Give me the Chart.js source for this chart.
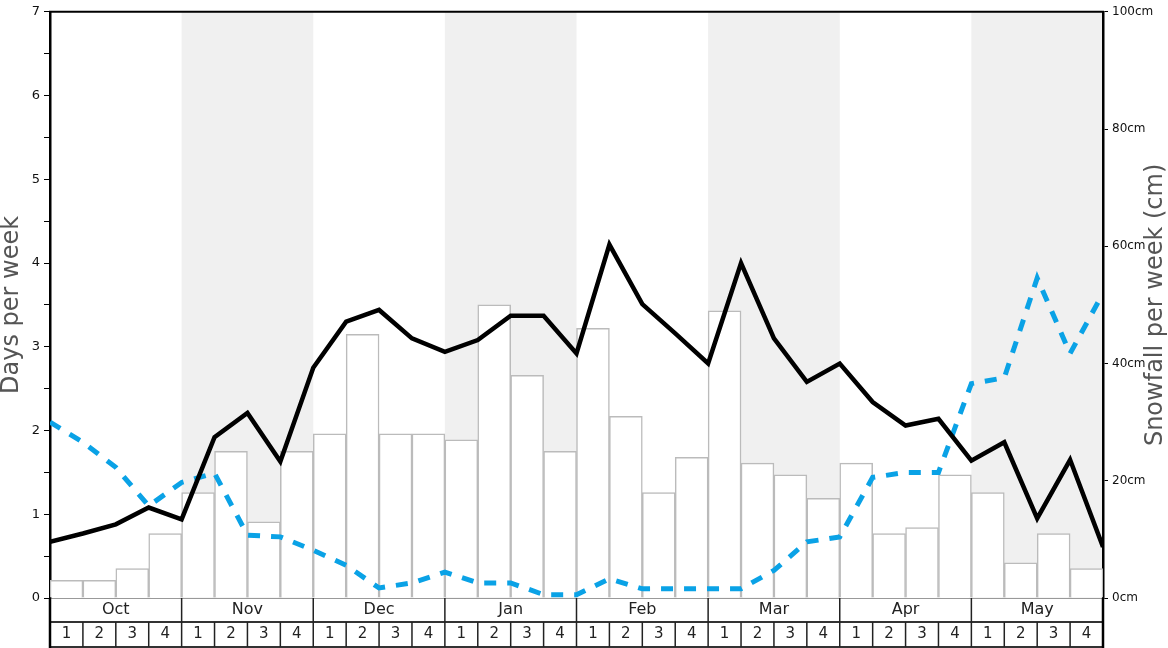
<!DOCTYPE html>
<html>
<head>
<meta charset="utf-8">
<script src="https://cdn.jsdelivr.net/npm/chart.js@4.4.1/dist/chart.umd.min.js"></script>
<style>
  html, body { margin: 0; padding: 0; background: #fff; }
  canvas { display: block; }
</style>
</head>
<body>
<canvas id="c" width="1168" height="648"></canvas>
<script>
// ---- data ----
const months = ['Oct', 'Nov', 'Dec', 'Jan', 'Feb', 'Mar', 'Apr', 'May'];
const weekNumbers = ['1', '2', '3', '4'];
const weekLabels = months.flatMap(m => weekNumbers.map(w => m + ' ' + w));

// snowfall per week (cm) - bars, right axis
const snowfallCm = [3, 3, 5, 11, 18, 25, 13, 25, 28, 45, 28, 28, 27, 50, 38, 25,
                    46, 31, 18, 24, 49, 23, 21, 17, 23, 11, 12, 21, 18, 6, 11, 5];

// days per week - solid black line (values at week boundaries)
const daysBlack = [0.67, 0.77, 0.88, 1.08, 0.94, 1.92, 2.21, 1.63, 2.75, 3.30, 3.44,
                   3.10, 2.94, 3.08, 3.37, 3.37, 2.92, 4.22, 3.51, 3.16, 2.80, 4.00,
                   3.10, 2.58, 2.80, 2.34, 2.06, 2.14, 1.64, 1.86, 0.95, 1.65, 0.61];

// days per week - dashed blue line (values at week boundaries)
const daysBlue = [2.10, 1.86, 1.56, 1.10, 1.38, 1.49, 0.75, 0.73, 0.57, 0.39, 0.12,
                  0.18, 0.31, 0.18, 0.18, 0.04, 0.04, 0.23, 0.11, 0.11, 0.11, 0.11,
                  0.33, 0.67, 0.73, 1.44, 1.50, 1.50, 2.56, 2.63, 3.82, 2.92, 3.64];

const leftTicksMax = 7;
const rightTicksMax = 100;
const leftTitle = 'Days per week';
const rightTitle = 'Snowfall per week (cm)';

const FONT = "'DejaVu Sans', sans-serif";

// ---- plugins ----
const bandsPlugin = {
  id: 'bands',
  beforeDraw(chart) {
    const {ctx, chartArea} = chart;
    const xl = chart.scales.xl;
    ctx.save();
    ctx.fillStyle = '#f0f0f0';
    months.forEach((m, i) => {
      if (i % 2 === 1) {
        const a = xl.getPixelForValue(i * 4);
        const b = xl.getPixelForValue(i * 4 + 4);
        ctx.fillRect(a, chartArea.top, b - a, chartArea.bottom - chartArea.top);
      }
    });
    ctx.restore();
  }
};

const tablePlugin = {
  id: 'table',
  afterDraw(chart) {
    const {ctx, chartArea} = chart;
    const xl = chart.scales.xl;
    const L = chartArea.left, R = chartArea.right;
    const y0 = chartArea.bottom;
    const y1 = y0 + 24;
    const y2 = chart.height - 1;
    ctx.save();
    // top frame line
    ctx.strokeStyle = '#000';
    ctx.lineWidth = 2;
    ctx.beginPath();
    ctx.moveTo(L - 1, chartArea.top);
    ctx.lineTo(R + 1, chartArea.top);
    ctx.stroke();

    // baseline
    ctx.strokeStyle = '#999';
    ctx.lineWidth = 1;
    ctx.beginPath();
    ctx.moveTo(L, y0 + 0.5);
    ctx.lineTo(R, y0 + 0.5);
    ctx.stroke();

    ctx.strokeStyle = '#333';
    ctx.lineWidth = 2;
    ctx.beginPath();
    ctx.moveTo(L, y1);
    ctx.lineTo(R, y1);
    ctx.moveTo(L, y2);
    ctx.lineTo(R, y2);
    ctx.stroke();

    // month separators
    ctx.strokeStyle = '#222';
    ctx.lineWidth = 1.5;
    ctx.beginPath();
    for (let i = 1; i < months.length; i++) {
      const x = xl.getPixelForValue(i * 4);
      ctx.moveTo(x, y0);
      ctx.lineTo(x, y1);
    }
    // week separators
    for (let i = 1; i < weekLabels.length; i++) {
      const x = xl.getPixelForValue(i);
      ctx.moveTo(x, y1);
      ctx.lineTo(x, y2);
    }
    ctx.stroke();

    // side edges
    ctx.strokeStyle = '#000';
    ctx.lineWidth = 2.5;
    ctx.beginPath();
    ctx.moveTo(L, y0);
    ctx.lineTo(L, chart.height);
    ctx.moveTo(R, y0);
    ctx.lineTo(R, chart.height);
    ctx.stroke();

    // text
    ctx.fillStyle = '#222';
    ctx.textAlign = 'center';
    ctx.textBaseline = 'middle';
    ctx.font = '16px ' + FONT;
    months.forEach((m, i) => {
      const a = xl.getPixelForValue(i * 4);
      const b = xl.getPixelForValue(i * 4 + 4);
      ctx.fillText(m, (a + b) / 2, (y0 + y1) / 2);
    });
    ctx.font = '15px ' + FONT;
    weekLabels.forEach((w, i) => {
      const a = xl.getPixelForValue(i);
      const b = xl.getPixelForValue(i + 1);
      ctx.fillText(weekNumbers[i % 4], (a + b) / 2, (y1 + y2) / 2);
    });

    // right axis title (reads bottom to top)
    ctx.fillStyle = '#555';
    ctx.font = '24px ' + FONT;
    ctx.translate(chart.width - 12, (chartArea.top + chartArea.bottom) / 2);
    ctx.rotate(-Math.PI / 2);
    ctx.fillText(rightTitle, 0, 0);
    ctx.restore();
  }
};

// ---- chart ----
new Chart(document.getElementById('c'), {
  type: 'bar',
  data: {
    labels: weekLabels,
    datasets: [
      {
        type: 'line',
        label: 'Days (black)',
        data: daysBlack.map((v, i) => ({x: i, y: v})),
        xAxisID: 'xl',
        yAxisID: 'y',
        borderColor: '#000',
        borderWidth: 4.5,
        borderJoinStyle: 'miter',
        pointRadius: 0,
        tension: 0,
        fill: false,
        order: 1
      },
      {
        type: 'line',
        label: 'Days (blue)',
        data: daysBlue.map((v, i) => ({x: i, y: v})),
        xAxisID: 'xl',
        yAxisID: 'y',
        borderColor: '#0aa2e6',
        borderWidth: 5,
        borderDash: [12, 11],
        borderCapStyle: 'butt',
        pointRadius: 0,
        tension: 0,
        fill: false,
        order: 2
      },
      {
        type: 'bar',
        label: 'Snowfall',
        data: snowfallCm,
        xAxisID: 'x',
        yAxisID: 'y2',
        backgroundColor: '#ffffff',
        borderColor: '#bbbbbb',
        borderWidth: 1.5,
        barPercentage: 1,
        categoryPercentage: 1,
        grouped: false,
        order: 3
      }
    ]
  },
  options: {
    responsive: false,
    animation: false,
    devicePixelRatio: 1,
    layout: { padding: { top: 10, bottom: 50, left: 0, right: 0 } },
    plugins: {
      legend: { display: false },
      tooltip: { enabled: false }
    },
    scales: {
      x: {
        type: 'category',
        offset: true,
        display: false
      },
      xl: {
        type: 'linear',
        min: 0,
        max: weekLabels.length,
        offset: false,
        bounds: 'ticks',
        display: false
      },
      y: {
        position: 'left',
        min: 0,
        max: leftTicksMax,
        afterFit(s) { s.width = 50; },
        border: { display: true, color: '#000', width: 2.5 },
        grid: { drawOnChartArea: false, color: '#000', lineWidth: 1, tickLength: 6 },
        ticks: {
          stepSize: 0.5,
          autoSkip: false,
          padding: 4,
          color: '#111',
          font: { family: FONT, size: 13 },
          callback: v => Number.isInteger(v) ? String(v) : ''
        },
        title: {
          display: true,
          text: leftTitle,
          color: '#555',
          font: { family: FONT, size: 24, lineHeight: 1 },
          padding: 0
        }
      },
      y2: {
        position: 'right',
        min: 0,
        max: rightTicksMax,
        afterFit(s) { s.width = 65; },
        border: { display: true, color: '#000', width: 2.5 },
        grid: { drawOnChartArea: false, color: '#000', lineWidth: 1, tickLength: 5 },
        ticks: {
          stepSize: 20,
          autoSkip: false,
          padding: 4,
          color: '#111',
          font: { family: FONT, size: 12 },
          callback: v => v + 'cm'
        }
      }
    }
  },
  plugins: [bandsPlugin, tablePlugin]
});
</script>
</body>
</html>
